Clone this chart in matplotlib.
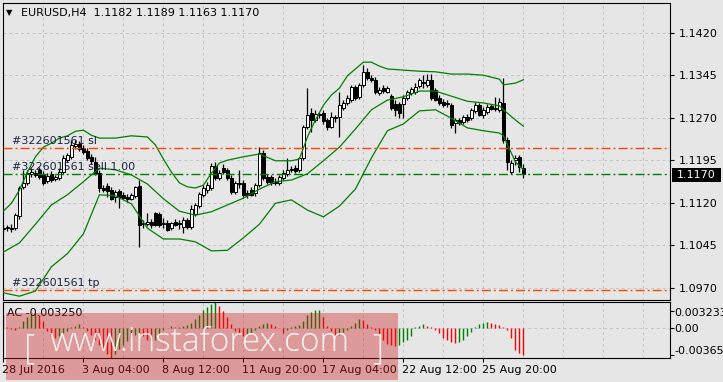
import matplotlib
matplotlib.use("Agg")
import matplotlib.pyplot as plt
from matplotlib.patches import Rectangle
import numpy as np

# EURUSD H4, 28 Jul 2016 08:00 .. 29 Aug 2016 12:00 (one value per bar)
opens = [1.1074, 1.1075, 1.1075, 1.1075, 1.1097, 1.1148, 1.1155, 1.1171, 1.1172, 1.1178,
         1.1171, 1.1158, 1.1171, 1.1162, 1.1164, 1.1174, 1.1195, 1.1201, 1.1220, 1.1224,
         1.1217, 1.1211, 1.1201, 1.1192, 1.1172, 1.1146, 1.1149, 1.1142, 1.1130, 1.1141,
         1.1134, 1.1130, 1.1127, 1.1132, 1.1149, 1.1082, 1.1082, 1.1086, 1.1102, 1.1100,
         1.1082, 1.1084, 1.1075, 1.1086, 1.1084, 1.1077, 1.1089, 1.1077, 1.1100, 1.1114,
         1.1134, 1.1142, 1.1146, 1.1185, 1.1164, 1.1181, 1.1178, 1.1164, 1.1139, 1.1155,
         1.1155, 1.1137, 1.1142, 1.1137, 1.1151, 1.1208, 1.1165, 1.1165, 1.1157, 1.1155,
         1.1164, 1.1171, 1.1178, 1.1181, 1.1178, 1.1199, 1.1254, 1.1278, 1.1266, 1.1277,
         1.1278, 1.1266, 1.1254, 1.1269, 1.1271, 1.1287, 1.1296, 1.1301, 1.1324, 1.1307,
         1.1328, 1.1351, 1.1340, 1.1337, 1.1314, 1.1322, 1.1315, 1.1308, 1.1294, 1.1294,
         1.1294, 1.1305, 1.1314, 1.1315, 1.1326, 1.1333, 1.1328, 1.1337, 1.1319, 1.1305,
         1.1298, 1.1294, 1.1292, 1.1261, 1.1266, 1.1262, 1.1271, 1.1269, 1.1282, 1.1292,
         1.1275, 1.1280, 1.1291, 1.1285, 1.1284, 1.1296, 1.1231, 1.1174, 1.1195, 1.1201,
         1.1182]
highs = [1.1081, 1.1081, 1.1082, 1.1102, 1.1149, 1.1178, 1.1178, 1.1181, 1.1178, 1.1183,
         1.1176, 1.1172, 1.1176, 1.1169, 1.1181, 1.1204, 1.1208, 1.1231, 1.1231, 1.1229,
         1.1222, 1.1217, 1.1206, 1.1201, 1.1178, 1.1151, 1.1155, 1.1148, 1.1142, 1.1144,
         1.1139, 1.1135, 1.1137, 1.1149, 1.1160, 1.1089, 1.1102, 1.1091, 1.1104, 1.1104,
         1.1093, 1.1089, 1.1086, 1.1091, 1.1089, 1.1095, 1.1093, 1.1116, 1.1119, 1.1139,
         1.1151, 1.1157, 1.1190, 1.1192, 1.1178, 1.1188, 1.1181, 1.1169, 1.1158, 1.1178,
         1.1160, 1.1142, 1.1148, 1.1155, 1.1218, 1.1213, 1.1171, 1.1169, 1.1164, 1.1169,
         1.1178, 1.1199, 1.1185, 1.1187, 1.1201, 1.1257, 1.1322, 1.1287, 1.1284, 1.1280,
         1.1284, 1.1269, 1.1280, 1.1275, 1.1315, 1.1301, 1.1310, 1.1328, 1.1328, 1.1331,
         1.1363, 1.1358, 1.1345, 1.1342, 1.1324, 1.1328, 1.1326, 1.1312, 1.1301, 1.1298,
         1.1310, 1.1319, 1.1324, 1.1331, 1.1340, 1.1345, 1.1347, 1.1347, 1.1322, 1.1310,
         1.1303, 1.1301, 1.1296, 1.1269, 1.1269, 1.1275, 1.1277, 1.1287, 1.1298, 1.1296,
         1.1289, 1.1294, 1.1294, 1.1307, 1.1305, 1.1340, 1.1236, 1.1195, 1.1204, 1.1204,
         1.1189]
lows = [1.1067, 1.1070, 1.1068, 1.1072, 1.1091, 1.1144, 1.1151, 1.1165, 1.1165, 1.1162,
        1.1151, 1.1155, 1.1157, 1.1158, 1.1160, 1.1171, 1.1192, 1.1197, 1.1215, 1.1211,
        1.1206, 1.1195, 1.1188, 1.1169, 1.1139, 1.1139, 1.1130, 1.1125, 1.1121, 1.1111,
        1.1127, 1.1121, 1.1125, 1.1128, 1.1042, 1.1075, 1.1079, 1.1075, 1.1079, 1.1077,
        1.1075, 1.1070, 1.1072, 1.1079, 1.1074, 1.1067, 1.1074, 1.1074, 1.1097, 1.1111,
        1.1130, 1.1137, 1.1142, 1.1160, 1.1160, 1.1171, 1.1160, 1.1135, 1.1135, 1.1146,
        1.1130, 1.1128, 1.1132, 1.1132, 1.1148, 1.1160, 1.1153, 1.1151, 1.1151, 1.1151,
        1.1160, 1.1167, 1.1174, 1.1172, 1.1174, 1.1195, 1.1250, 1.1245, 1.1262, 1.1269,
        1.1259, 1.1248, 1.1252, 1.1262, 1.1236, 1.1284, 1.1292, 1.1298, 1.1301, 1.1303,
        1.1324, 1.1337, 1.1333, 1.1312, 1.1310, 1.1314, 1.1314, 1.1284, 1.1273, 1.1269,
        1.1269, 1.1301, 1.1310, 1.1312, 1.1322, 1.1322, 1.1324, 1.1301, 1.1299, 1.1292,
        1.1289, 1.1289, 1.1252, 1.1243, 1.1257, 1.1259, 1.1262, 1.1266, 1.1278, 1.1273,
        1.1269, 1.1277, 1.1284, 1.1282, 1.1280, 1.1225, 1.1178, 1.1171, 1.1187, 1.1174,
        1.1163]
closes = [1.1075, 1.1077, 1.1074, 1.1098, 1.1146, 1.1155, 1.1172, 1.1174, 1.1169, 1.1165,
          1.1155, 1.1167, 1.1160, 1.1165, 1.1174, 1.1199, 1.1204, 1.1222, 1.1224, 1.1215,
          1.1209, 1.1199, 1.1194, 1.1172, 1.1146, 1.1142, 1.1141, 1.1127, 1.1139, 1.1130,
          1.1128, 1.1127, 1.1134, 1.1148, 1.1081, 1.1084, 1.1086, 1.1081, 1.1081, 1.1081,
          1.1084, 1.1072, 1.1084, 1.1081, 1.1082, 1.1089, 1.1077, 1.1109, 1.1116, 1.1135,
          1.1146, 1.1151, 1.1185, 1.1164, 1.1172, 1.1174, 1.1164, 1.1139, 1.1155, 1.1153,
          1.1134, 1.1134, 1.1134, 1.1151, 1.1208, 1.1164, 1.1157, 1.1155, 1.1155, 1.1165,
          1.1172, 1.1178, 1.1180, 1.1176, 1.1199, 1.1254, 1.1275, 1.1266, 1.1277, 1.1275,
          1.1264, 1.1254, 1.1271, 1.1271, 1.1292, 1.1296, 1.1305, 1.1324, 1.1305, 1.1328,
          1.1351, 1.1340, 1.1337, 1.1315, 1.1319, 1.1317, 1.1322, 1.1287, 1.1284, 1.1278,
          1.1305, 1.1315, 1.1321, 1.1324, 1.1337, 1.1331, 1.1337, 1.1305, 1.1301, 1.1296,
          1.1292, 1.1296, 1.1257, 1.1266, 1.1261, 1.1271, 1.1266, 1.1284, 1.1292, 1.1275,
          1.1284, 1.1289, 1.1285, 1.1287, 1.1298, 1.1231, 1.1192, 1.1190, 1.1199, 1.1183,
          1.1170]

# Bollinger bands at these bar numbers
upper_idx = [0, 2, 4, 6, 8, 10, 12, 14, 16, 18, 20, 22, 24, 28, 32, 36, 38, 40, 42, 44,
             46, 48, 50, 52, 54, 56, 60, 64, 68, 72, 74, 76, 78, 80, 82, 84, 86, 88, 90, 92,
             94, 96, 100, 104, 108, 112, 116, 120, 124, 125, 128, 130]
bb_upper = [1.1105, 1.1119, 1.1142, 1.1174, 1.1201, 1.1218, 1.1225, 1.1234, 1.1238, 1.1246,
            1.1248, 1.1239, 1.1234, 1.1234, 1.1238, 1.1236, 1.1222, 1.1197, 1.1174, 1.1155,
            1.1148, 1.1146, 1.1151, 1.1172, 1.1190, 1.1195, 1.1201, 1.1206, 1.1194, 1.1194,
            1.1197, 1.1236, 1.1266, 1.1292, 1.1310, 1.1322, 1.1344, 1.1356, 1.1368, 1.1368,
            1.1361, 1.1356, 1.1354, 1.1352, 1.1351, 1.1347, 1.1347, 1.1345, 1.1338, 1.1328,
            1.1331, 1.1337]
band_idx = [0, 4, 8, 12, 16, 20, 24, 28, 32, 36, 40, 44, 48, 52, 56, 60, 64, 68, 72, 76,
            80, 84, 88, 92, 96, 100, 104, 108, 112, 116, 120, 124, 125, 128, 130]
bb_mid = [1.1033, 1.1049, 1.1082, 1.1116, 1.1134, 1.1157, 1.1181, 1.1178, 1.1169, 1.1153,
          1.1127, 1.1105, 1.1098, 1.1104, 1.1116, 1.1128, 1.1144, 1.1157, 1.1160, 1.1171,
          1.1194, 1.1218, 1.1250, 1.1284, 1.1301, 1.1307, 1.1317, 1.1317, 1.1308, 1.1299,
          1.1296, 1.1291, 1.1284, 1.1266, 1.1255]
bb_lower = [1.0961, 1.0955, 1.0964, 1.1007, 1.1030, 1.1065, 1.1134, 1.1132, 1.1118, 1.1075,
            1.1056, 1.1056, 1.1051, 1.1035, 1.1036, 1.1058, 1.1082, 1.1119, 1.1125, 1.1107,
            1.1095, 1.1114, 1.1144, 1.1199, 1.1247, 1.1259, 1.1282, 1.1284, 1.1269, 1.1252,
            1.1247, 1.1243, 1.1238, 1.1192, 1.1178]

# Accelerator oscillator
ac = [0.0018, 0.0001, -0.0001, -0.0002, 0.0002, 0.0009, 0.0014, 0.0018, 0.0019, 0.0016,
      0.0009, -0.0003, -0.0010, -0.0012, -0.0009, -0.0006, -0.0003, 0.0001, 0.0003, 0.0005,
      0.0002, -0.0003, -0.0008, -0.0014, -0.0021, -0.0025, -0.0031, -0.00365, -0.0032, -0.0026,
      -0.0021, -0.0016, -0.0012, -0.0008, -0.0006, -0.0010, -0.0014, -0.0016, -0.0014, -0.0008,
      -0.0002, 0.0000, 0.0003, 0.0001, 0.0002, 0.0003, 0.0004, 0.0007, 0.0012, 0.0016,
      0.0022, 0.0026, 0.0030, 0.003233, 0.0027, 0.0021, 0.0014, 0.0005, -0.0003, -0.0006,
      -0.0010, -0.0008, -0.0006, -0.0002, 0.0003, 0.0005, 0.0007, 0.0005, 0.0003, 0.0000,
      -0.0006, -0.0002, 0.0001, 0.0003, 0.0004, 0.0009, 0.0016, 0.0020, 0.0022, 0.0023,
      0.0014, 0.0003, -0.0003, -0.0010, -0.0008, -0.0005, -0.0002, 0.0003, 0.0007, 0.0011,
      0.0010, 0.0005, 0.0001, -0.0002, -0.0007, -0.0014, -0.0019, -0.0021, -0.0022, -0.0021,
      -0.0017, -0.0014, -0.0009, 0.0001, 0.0003, 0.0005, 0.0003, 0.0001, -0.0002, -0.0006,
      -0.0012, -0.0014, -0.0017, -0.0018, -0.0017, -0.0014, -0.0010, -0.0005, 0.0001, 0.0005,
      0.0007, 0.0008, 0.0007, 0.0005, 0.0004, 0.0002, -0.0002, -0.0012, -0.0027, -0.0030,
      -0.00325]
ac_top, ac_bottom = 0.003233, -0.00365

price_ticks = [1.1420, 1.1345, 1.1270, 1.1195, 1.1120, 1.1045, 1.0970]
date_pos = [0, 20, 40, 60, 80, 100, 120]
date_labels = ["28 Jul 2016", "3 Aug 04:00", "8 Aug 12:00", "11 Aug 20:00",
               "17 Aug 04:00", "22 Aug 12:00", "25 Aug 20:00"]

order_id = "#322601561"
sl_price = 1.1217
entry_price = 1.1170
tp_price = 1.0966

W, H = 723, 382
BG = "#e6e6e6"
GRID = "#c4c4c4"
TXT = "#1a2440"


def fx(px):
    return px / W


def fy(py):
    return 1 - py / H


fig = plt.figure(figsize=(W / 100, H / 100), dpi=100, facecolor=BG)
ax = fig.add_axes([fx(3), fy(300), 667 / W, 297 / H], facecolor=BG)
ax2 = fig.add_axes([fx(3), fy(358), 667 / W, 56 / H], facecolor=BG)

x = np.arange(len(opens))
o = np.array(opens)
h = np.array(highs)
l = np.array(lows)
c = np.array(closes)

for a in (ax, ax2):
    a.set_xlim(-0.1, 166.65)
    for g in range(10, 170, 10):
        a.axvline(g, color=GRID, lw=0.7, ls=(0, (3, 3)), zorder=0.5)
    for s in a.spines.values():
        s.set_color("black")
        s.set_linewidth(0.8)

# price panel
ax.set_ylim(1.09483, 1.14724)
for p in price_ticks:
    ax.axhline(p, color=GRID, lw=0.7, ls=(0, (3, 3)), zorder=0.5)

ax.vlines(x, l, h, color="black", lw=0.9, zorder=2)
up = c >= o
body_lo = np.minimum(o, c)
body_h = np.maximum(np.abs(c - o), 0.00004)
ax.bar(x[up], body_h[up], bottom=body_lo[up], width=0.6, color="white",
       edgecolor="black", lw=0.7, zorder=3)
ax.bar(x[~up], body_h[~up], bottom=body_lo[~up], width=0.6, color="black",
       edgecolor="black", lw=0.7, zorder=3)

ax.plot(upper_idx, bb_upper, color="#008000", lw=0.9, zorder=4)
ax.plot(band_idx, bb_mid, color="#008000", lw=0.9, zorder=4)
ax.plot(band_idx, bb_lower, color="#008000", lw=0.9, zorder=4)

dashdot = (0, (6.5, 2.2, 1.4, 2.2))
ax.axhline(sl_price, color="#ff4500", lw=1, ls=dashdot, zorder=4)
ax.axhline(tp_price, color="#ff4500", lw=1, ls=dashdot, zorder=4)
ax.axhline(entry_price, color="#008000", lw=1, ls=dashdot, zorder=4)

ax.set_xticks([])
ax.yaxis.tick_right()
ax.set_yticks(price_ticks)
ax.set_yticklabels([f"{p:.4f}" for p in price_ticks])
ax.tick_params(axis="y", direction="out", length=3, width=0.8, pad=3,
               labelsize=8, colors="black")

# AC panel
ax2.set_ylim(ac_bottom, ac_top)
ax2.axhline(0, color=GRID, lw=0.7, ls=(0, (3, 3)), zorder=0.5)
acv = np.array(ac)
cols = ["#ff0000"] + ["#008000" if acv[i] >= acv[i - 1] else "#ff0000"
                      for i in range(1, len(acv))]
ax2.vlines(x, 0, acv, colors=cols, lw=1.0, zorder=2)
ax2.set_xticks(date_pos)
ax2.set_xticklabels([])
ax2.tick_params(axis="x", direction="out", length=3, width=0.8)
ax2.yaxis.tick_right()
ax2.set_yticks([0.0021, 0, -0.0033])
ax2.set_yticklabels([])
ax2.tick_params(axis="y", direction="out", length=3, width=0.8)

# texts
fig.text(fx(6), fy(12.5), "\u25bc", fontsize=6, va="center", color="black")
fig.text(fx(21), fy(13), f"EURUSD,H4  {opens[-1]:.4f} {highs[-1]:.4f} "
         f"{lows[-1]:.4f} {closes[-1]:.4f}", fontsize=8, va="center", color="black")
fig.text(fx(12), fy(141), f"{order_id} sl", fontsize=8, va="center", color=TXT)
fig.text(fx(12), fy(167), f"{order_id} sell 1.00", fontsize=8, va="center", color=TXT)
fig.text(fx(12), fy(283), f"{order_id} tp", fontsize=8, va="center", color=TXT)
fig.text(fx(7), fy(313), f"AC {ac[-1]:.6f}", fontsize=8, va="center", color="black")

fig.add_artist(Rectangle((fx(672), fy(181.5)), 49 / W, 14 / H,
                         transform=fig.transFigure, fc="black", ec="none", zorder=5))
fig.text(fx(677), fy(174.5), f"{closes[-1]:.4f}", fontsize=8, va="center",
         color="white", zorder=6)

fig.text(fx(674), fy(312.7), f"{ac_top:.6f}", fontsize=8, va="center")
fig.text(fx(674), fy(329.3), "0.00", fontsize=8, va="center")
fig.text(fx(674), fy(350.7), f"{ac_bottom:.5f}", fontsize=8, va="center")

for p, lab in zip(date_pos, date_labels):
    fig.text(fx(3 + 4 * (p + 0.1) - 1), fy(370), lab, fontsize=8, va="center",
             ha="left", color="black")

# watermark
fig.add_artist(Rectangle((fx(6), fy(380)), 392 / W, 67 / H, transform=fig.transFigure,
                         fc=(0.80, 0.12, 0.12), alpha=0.38, ec="none", zorder=10))
wm = dict(color="white", alpha=0.9, zorder=11, family=["Open Sans", "DejaVu Sans"],
          fontweight="light")
fig.text(fx(24), fy(358), "[", fontsize=25, va="baseline", **wm)
fig.text(fx(50), fy(351), "www.instaforex.com", fontsize=24, va="baseline", **wm)
fig.text(fx(372), fy(358), "]", fontsize=25, va="baseline", **wm)

fig.savefig("out.png", dpi=100, facecolor=BG)
